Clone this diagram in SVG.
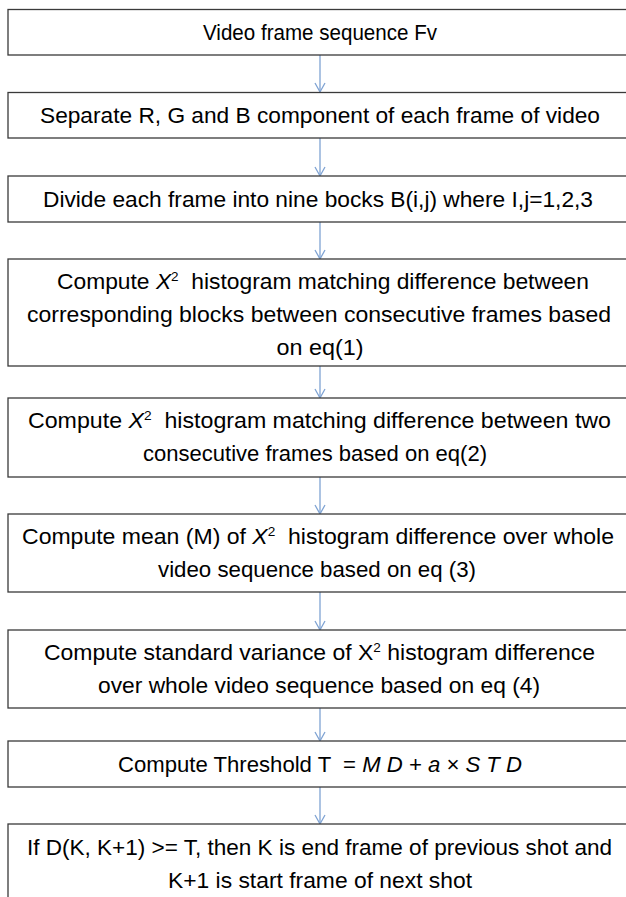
<svg xmlns="http://www.w3.org/2000/svg" width="626" height="897" viewBox="0 0 626 897">
<style>
.box{fill:#ffffff;stroke:#3a3a3a;stroke-width:1.3}
.t{font-family:"Liberation Sans",Arial,sans-serif;font-size:22px;fill:#000;text-anchor:middle;white-space:pre}
.c{stroke:#7fa3d3;stroke-width:1.3;fill:none}
.i{font-style:italic}
.sup{font-size:13px}
</style>
<defs>
<marker id="ah" markerWidth="12" markerHeight="12" refX="10" refY="6" orient="auto" markerUnits="userSpaceOnUse" viewBox="0 0 12 12">
<path d="M1,1 L10,6 L1,11" fill="none" stroke="#7fa3d3" stroke-width="1.3"/>
</marker>
</defs>
<rect width="626" height="897" fill="#ffffff"/>
<g id="connectors">
<line class="c" x1="320" y1="55" x2="320" y2="92" marker-end="url(#ah)"/>
<line class="c" x1="320" y1="138" x2="320" y2="176" marker-end="url(#ah)"/>
<line class="c" x1="320" y1="222" x2="320" y2="259" marker-end="url(#ah)"/>
<line class="c" x1="320" y1="366" x2="320" y2="398" marker-end="url(#ah)"/>
<line class="c" x1="320" y1="477" x2="320" y2="514" marker-end="url(#ah)"/>
<line class="c" x1="320" y1="592" x2="320" y2="630" marker-end="url(#ah)"/>
<line class="c" x1="320" y1="708" x2="320" y2="741" marker-end="url(#ah)"/>
<line class="c" x1="320" y1="787" x2="320" y2="824" marker-end="url(#ah)"/>
</g>
<g id="n1">
<rect class="box" x="8" y="9.5" width="630" height="45.5"/>
<text class="t" x="320" y="40" textLength="234" lengthAdjust="spacingAndGlyphs">Video frame sequence Fv</text>
</g>
<g id="n2">
<rect class="box" x="8" y="92.5" width="630" height="45.5"/>
<text class="t" x="320" y="123" textLength="560" lengthAdjust="spacingAndGlyphs">Separate R, G and B component of each frame of video</text>
</g>
<g id="n3">
<rect class="box" x="8" y="176" width="630" height="46"/>
<text class="t" x="318" y="207" textLength="550" lengthAdjust="spacingAndGlyphs">Divide each frame into nine bocks B(i,j) where I,j=1,2,3</text>
</g>
<g id="n4">
<rect class="box" x="8" y="259" width="630" height="107"/>
<text class="t" x="323" y="289" textLength="532" lengthAdjust="spacingAndGlyphs">Compute <tspan class="i">X</tspan><tspan class="sup" dy="-8">2</tspan><tspan dy="8">  histogram matching difference between</tspan></text>
<text class="t" x="319" y="322" textLength="584" lengthAdjust="spacingAndGlyphs">corresponding blocks between consecutive frames based</text>
<text class="t" x="320" y="355" textLength="87" lengthAdjust="spacingAndGlyphs">on eq(1)</text>
</g>
<g id="n5">
<rect class="box" x="8" y="398" width="630" height="79"/>
<text class="t" x="319.5" y="428" textLength="583" lengthAdjust="spacingAndGlyphs">Compute <tspan class="i">X</tspan><tspan class="sup" dy="-8">2</tspan><tspan dy="8">  histogram matching difference between two</tspan></text>
<text class="t" x="315" y="461" textLength="344" lengthAdjust="spacingAndGlyphs">consecutive frames based on eq(2)</text>
</g>
<g id="n6">
<rect class="box" x="8" y="514" width="630" height="78"/>
<text class="t" x="318" y="544" textLength="592" lengthAdjust="spacingAndGlyphs">Compute mean (M) of <tspan class="i">X</tspan><tspan class="sup" dy="-8">2</tspan><tspan dy="8">  histogram difference over whole</tspan></text>
<text class="t" x="317" y="577" textLength="318" lengthAdjust="spacingAndGlyphs">video sequence based on eq (3)</text>
</g>
<g id="n7">
<rect class="box" x="8" y="630" width="630" height="78"/>
<text class="t" x="319.5" y="660" textLength="551" lengthAdjust="spacingAndGlyphs">Compute standard variance of X<tspan class="sup" dy="-8">2</tspan><tspan dy="8"> histogram difference</tspan></text>
<text class="t" x="319" y="693" textLength="442" lengthAdjust="spacingAndGlyphs">over whole video sequence based on eq (4)</text>
</g>
<g id="n8">
<rect class="box" x="8" y="741" width="630" height="46"/>
<text class="t" x="320" y="772" textLength="404" lengthAdjust="spacingAndGlyphs">Compute Threshold T  = <tspan class="i">M D + a × S T D</tspan></text>
</g>
<g id="n9">
<rect class="box" x="8" y="824" width="630" height="90"/>
<text class="t" x="319.5" y="855" textLength="585" lengthAdjust="spacingAndGlyphs">If D(K, K+1) &gt;= T, then K is end frame of previous shot and</text>
<text class="t" x="320" y="888" textLength="304" lengthAdjust="spacingAndGlyphs">K+1 is start frame of next shot</text>
</g>
</svg>
